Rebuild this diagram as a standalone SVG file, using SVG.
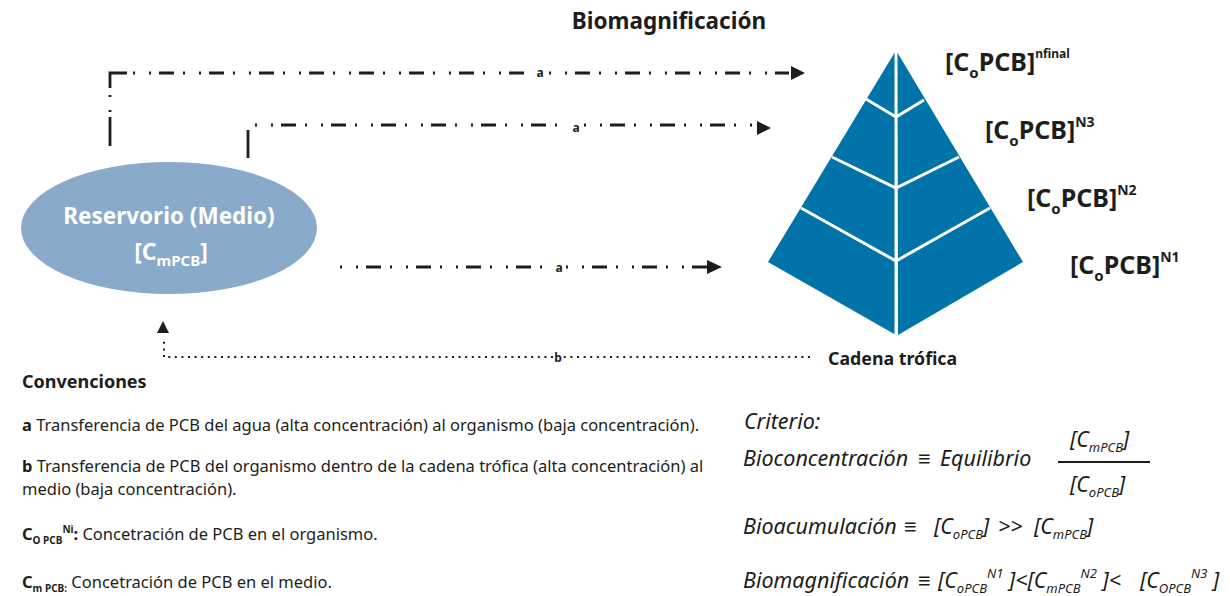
<svg xmlns="http://www.w3.org/2000/svg" width="1230" height="596" viewBox="0 0 1230 596">
<style>
  text { font-family: "Noto Sans", "Open Sans", sans-serif; fill: #1d1d1b; }
  .b { font-weight: bold; }
  .it { font-style: italic; font-size: 21.5px; }
  .lg { font-size: 16.5px; }
  .lbl { font-size: 12px; font-weight: bold; }
  .pl { font-size: 25px; font-weight: bold; }
  .dd { fill: none; stroke: #1d1d1b; stroke-width: 2.8; stroke-dasharray: 2 14 2 8 15 9; }
  .dot { fill: none; stroke: #1d1d1b; stroke-width: 2; stroke-dasharray: 2 4.6; }
  .sol { fill: none; stroke: #1d1d1b; stroke-width: 2.8; }
  .ah { fill: #1d1d1b; }
  .lay { fill: none; stroke: #ffffff; stroke-width: 3; }
</style>

<g id="title">
  <text x="669" y="29" text-anchor="middle" class="b" font-size="22.5">Biomagnificación</text>
</g>

<g id="reservorio">
  <ellipse cx="169" cy="228" rx="148" ry="66" fill="#8aaacb"/>
  <text x="169" y="224" text-anchor="middle" class="b" font-size="22.5" style="fill:#ffffff">Reservorio (Medio)</text>
  <text x="171" y="260" text-anchor="middle" class="b" font-size="23" style="fill:#ffffff">[C<tspan font-size="15" dy="6">mPCB</tspan><tspan dy="-6">]</tspan></text>
</g>

<g id="piramide">
  <polygon points="895,52 768,262 896,335" fill="#0073a8"/>
  <polygon points="897,52 1023,262 898,335" fill="#0073a8"/>
  <line x1="896" y1="50" x2="896" y2="337" stroke="#ffffff" stroke-width="3"/>
  <polyline class="lay" points="866,99 896,117 924,100"/>
  <polyline class="lay" points="832,157 896,188 959,157"/>
  <polyline class="lay" points="801,208 896,261 990,208"/>
  <text x="828" y="365" class="b" font-size="17.8">Cadena trófica</text>
</g>

<g id="niveles">
  <text x="945" y="71" class="pl">[C<tspan font-size="15" dy="7">o</tspan><tspan dy="-7">PCB]</tspan><tspan font-size="12" dy="-13">nfinal</tspan></text>
  <text x="985" y="139" class="pl">[C<tspan font-size="15" dy="7">o</tspan><tspan dy="-7">PCB]</tspan><tspan font-size="14" dy="-12">N3</tspan></text>
  <text x="1027" y="207" class="pl">[C<tspan font-size="15" dy="7">o</tspan><tspan dy="-7">PCB]</tspan><tspan font-size="14" dy="-12">N2</tspan></text>
  <text x="1070" y="274" class="pl">[C<tspan font-size="15" dy="7">o</tspan><tspan dy="-7">PCB]</tspan><tspan font-size="14" dy="-12">N1</tspan></text>
</g>

<g id="conectores">
  <!-- a: top -->
  <line class="sol" x1="110" y1="117" x2="110" y2="146"/>
  <line class="sol" x1="110" y1="95" x2="110" y2="97"/>
  <line class="sol" x1="110" y1="110" x2="110" y2="112"/>
  <path class="sol" d="M110,88 V73 H127"/>
  <line class="dd" x1="133" y1="73" x2="533" y2="73"/>
  <line class="dd" x1="549" y1="73" x2="789" y2="73"/>
  <polygon class="ah" points="791,66 805,73 791,80"/>
  <text x="540" y="77" text-anchor="middle" class="lbl">a</text>
  <!-- a: middle -->
  <line class="sol" x1="248" y1="130" x2="248" y2="158"/>
  <line class="dd" x1="255" y1="125" x2="568" y2="125"/>
  <line class="dd" x1="584" y1="125" x2="752" y2="125"/>
  <polygon class="ah" points="757,121 771,128 757,135"/>
  <text x="576" y="132" text-anchor="middle" class="lbl">a</text>
  <!-- a: bottom -->
  <line class="dd" x1="340" y1="267" x2="552" y2="267"/>
  <line class="dd" x1="566" y1="267" x2="710" y2="267"/>
  <polygon class="ah" points="707,260 722,267 707,274"/>
  <text x="559" y="272" text-anchor="middle" class="lbl">a</text>
  <!-- b -->
  <line class="dot" x1="810" y1="357" x2="563" y2="357"/>
  <line class="dot" x1="553" y1="357" x2="166" y2="357"/>
  <path class="dot" d="M164,357 V338"/>
  <polygon class="ah" points="163,321 169,333 157,333"/>
  <text x="558" y="362" text-anchor="middle" class="lbl">b</text>
</g>

<g id="convenciones">
  <text x="22" y="388" class="b" font-size="18">Convenciones</text>
  <text x="22" y="431" class="lg"><tspan class="b">a</tspan> Transferencia de PCB del agua (alta concentración) al organismo (baja concentración).</text>
  <text x="22" y="472" class="lg"><tspan class="b">b</tspan> Transferencia de PCB del organismo dentro de la cadena trófica (alta concentración) al</text>
  <text x="22" y="495" class="lg">medio (baja concentración).</text>
  <text x="22" y="540" class="lg"><tspan class="b">C</tspan><tspan class="b" font-size="10" dy="4">O PCB</tspan><tspan class="b" font-size="10" dy="-11">Ni</tspan><tspan class="b" dy="7">:</tspan> Concetración de PCB en el organismo.</text>
  <text x="22" y="588" class="lg"><tspan class="b">C</tspan><tspan class="b" font-size="10" dy="4">m PCB:</tspan><tspan dy="-4"> Concetración de PCB en el medio.</tspan></text>
</g>

<g id="criterio">
  <text x="744" y="429" class="it">Criterio:</text>
  <text x="743" y="466" class="it">Bioconcentración<tspan x="918" font-style="normal" class="b">≡</tspan><tspan x="940">Equilibrio</tspan></text>
  <text x="1070" y="447" class="it">[C<tspan font-size="13" dy="5">mPCB</tspan><tspan dy="-5">]</tspan></text>
  <line x1="1058" y1="462" x2="1150" y2="462" stroke="#1d1d1b" stroke-width="2"/>
  <text x="1070" y="492" class="it">[C<tspan font-size="13" dy="5">oPCB</tspan><tspan dy="-5">]</tspan></text>
  <text x="743" y="534" class="it">Bioacumulación<tspan x="904" font-style="normal" class="b">≡</tspan><tspan x="934">[C</tspan><tspan font-size="13" dy="5">oPCB</tspan><tspan dy="-5">]</tspan><tspan x="998">&gt;&gt;</tspan><tspan x="1034">[C</tspan><tspan font-size="13" dy="5">mPCB</tspan><tspan dy="-5">]</tspan></text>
  <text x="743" y="588" class="it">Biomagnificación<tspan x="918" font-style="normal" class="b">≡</tspan><tspan x="938">[C</tspan><tspan font-size="13" dy="5">oPCB</tspan><tspan font-size="13" dy="-15">N1</tspan><tspan dy="10"> ]&lt;[C</tspan><tspan font-size="13" dy="5">mPCB</tspan><tspan font-size="13" dy="-15">N2</tspan><tspan dy="10"> ]&lt;</tspan><tspan x="1140">[C</tspan><tspan font-size="13" dy="5">OPCB</tspan><tspan font-size="13" dy="-15">N3</tspan><tspan dy="10"> ]</tspan></text>
</g>
</svg>
